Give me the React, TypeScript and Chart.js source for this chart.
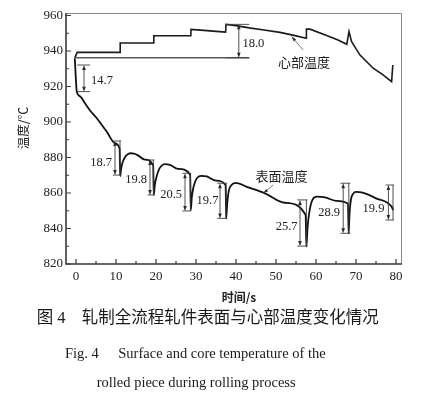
import React, { useEffect, useRef } from "react";
import { Chart, registerables } from "chart.js";

Chart.register(...registerables);

// ---------- data ----------
const xTicks = [0, 10, 20, 30, 40, 50, 60, 70, 80];
const xMinorTicks = [5, 15, 25, 35, 45, 55, 65, 75];
const yTicks = [820, 840, 860, 880, 900, 920, 940, 960];
const yMinorTicks = [830, 850, 870, 890, 910, 930, 950];

// core (心部) temperature
const coreX = [-0.3, 0.3, 11.0, 11.05, 19.4, 19.45, 28.7, 28.75, 32.0, 35.8, 37.4, 37.5, 40.0, 43.3, 47.0, 51.0, 54.5, 57.5, 57.6, 58.5, 62.5, 65.5, 67.7, 68.25, 68.9, 71.0, 74.3, 76.6, 78.9, 79.2];
const coreY = [936.1, 939.2, 939.2, 944.5, 944.5, 948.6, 948.6, 952.2, 951.6, 950.9, 950.6, 955.0, 954.3, 953.0, 951.8, 950.5, 948.8, 947.2, 952.4, 952.3, 948.8, 946.2, 943.8, 950.9, 945.2, 937.7, 930.3, 926.8, 922.7, 932.1];

// surface (表面) temperature
const surfaceX = [
  -0.3, 0.2, 1.0, 2.25, 3.5, 5.2, 6.5, 7.7, 9.75, 10.9,
  11.05, 11.3, 11.7, 12.2, 12.8, 13.6, 14.5, 15.5, 17.2, 19.3,
  19.45, 19.7, 20.1, 20.6, 21.2, 22.2, 23.5, 25.5, 28.55,
  28.7, 28.95, 29.3, 29.8, 30.3, 31.3, 32.7, 35.0, 37.4,
  37.55, 37.8, 38.2, 38.9, 39.6, 40.3, 42.25, 47.25, 52.25, 57.4,
  57.6, 57.9, 58.5, 59.1, 60.2, 62.25, 65.0, 68.0,
  68.15, 68.4, 68.75, 69.3, 70.0, 71.4, 75.0, 78.9, 79.3,
];
const surfaceY = [
  935.9, 917.1, 914.5, 910.5, 906.5, 902.1, 898.2, 894.5, 888.0, 885.0,
  869.5, 874.0, 877.6, 880.0, 881.6, 882.4, 882.2, 881.2, 878.8, 875.6,
  858.9, 864.5, 868.8, 872.5, 874.9, 876.3, 875.8, 873.6, 870.3,
  850.4, 857.5, 862.6, 866.5, 868.6, 869.7, 869.3, 867.0, 864.4,
  845.7, 854.0, 861.2, 864.5, 865.5, 865.6, 863.9, 859.8, 854.5, 847.6,
  829.8, 841.0, 851.4, 856.1, 857.9, 857.5, 855.6, 853.9,
  837.3, 849.0, 856.5, 859.6, 860.6, 860.3, 857.0, 852.3, 850.4,
];

// horizontal reference line at start core temperature
const baseLineX = [-0.5, 43.3];
const baseLineY = [936.2, 936.2];

// temperature-difference brackets
const diffLabels = ["14.7", "18.0", "18.7", "19.8", "20.5", "19.7", "25.7", "28.9", "19.9"];
const diffArrowX = [2.0, 40.7, 9.75, 18.5, 27.25, 36.0, 56.0, 66.8, 78.1];
const diffTop = [932.1, 955.0, 889.3, 878.6, 871.1, 865.5, 856.1, 865.5, 864.5];
const diffBottom = [917.1, 936.2, 870.1, 858.9, 849.9, 845.7, 830.1, 837.3, 844.8];
const diffTickFrom = [0.3, 37.5, 9.2, 17.9, 26.6, 35.3, 55.3, 66.1, 77.4];
const diffTickTo = [3.5, 43.3, 11.3, 19.6, 28.8, 37.8, 57.9, 68.6, 79.5];
const diffVertX = [null, null, 11.0, 19.35, 28.6, 37.5, 57.6, 68.2, 79.25];
const diffLabelX = [3.75, 41.6, 9.0, 17.75, 26.5, 35.6, 55.4, 66.0, 77.1];
const diffLabelY = [923.3, 944.3, 877.3, 867.3, 858.9, 855.7, 841.0, 848.9, 851.4];
const diffLabelAlign = ["left", "left", "right", "right", "right", "right", "right", "right", "right"];

// callouts
const calloutText = ["心部温度", "表面温度"];
const calloutX = [57.0, 51.4];
const calloutY = [934.0, 869.6];
const leaderFromX = [56.8, 49.3];
const leaderFromY = [940.6, 864.5];
const leaderToX = [53.9, 46.8];
const leaderToY = [948.1, 859.8];

const yTitle = "温度/℃";
const xTitle = "时间/s";
const captionCn1 = "图 4";
const captionCn2 = "轧制全流程轧件表面与心部温度变化情况";
const captionEn1a = "Fig. 4";
const captionEn1b = "Surface and core temperature of the";
const captionEn2 = "rolled piece during rolling process";

const toPts = (xs: number[], ys: number[]) => xs.map((x, i) => ({ x, y: ys[i] }));

function arrowHead(ctx: CanvasRenderingContext2D, x1: number, y1: number, x2: number, y2: number, len = 5, half = 1.8) {
  const ang = Math.atan2(y2 - y1, x2 - x1);
  ctx.beginPath();
  ctx.moveTo(x2, y2);
  ctx.lineTo(x2 - len * Math.cos(ang) + half * Math.sin(ang), y2 - len * Math.sin(ang) - half * Math.cos(ang));
  ctx.lineTo(x2 - len * Math.cos(ang) - half * Math.sin(ang), y2 - len * Math.sin(ang) + half * Math.cos(ang));
  ctx.closePath();
  ctx.fill();
}

const overlay = {
  id: "overlay",
  afterDraw(chart: any) {
    const { ctx, chartArea: a } = chart;
    const xs = chart.scales.x;
    const ys = chart.scales.y;
    const px = (v: number) => xs.getPixelForValue(v);
    const py = (v: number) => ys.getPixelForValue(v);
    ctx.save();
    // frame
    ctx.strokeStyle = "#8a8a8a";
    ctx.lineWidth = 1;
    ctx.beginPath();
    ctx.moveTo(a.left, a.top + 0.5);
    ctx.lineTo(a.right - 0.5, a.top + 0.5);
    ctx.lineTo(a.right - 0.5, a.bottom);
    ctx.stroke();
    ctx.strokeStyle = "#3a3a3a";
    ctx.lineWidth = 1.6;
    ctx.beginPath();
    ctx.moveTo(a.left, a.top);
    ctx.lineTo(a.left, a.bottom);
    ctx.lineTo(a.right, a.bottom);
    ctx.stroke();
    // inward ticks
    ctx.lineWidth = 1.2;
    ctx.beginPath();
    xTicks.forEach((v) => { const p = px(v); ctx.moveTo(p, a.bottom); ctx.lineTo(p, a.bottom - 5); });
    xMinorTicks.forEach((v) => { const p = px(v); ctx.moveTo(p, a.bottom); ctx.lineTo(p, a.bottom - 3); });
    yTicks.forEach((v) => { const p = py(v); ctx.moveTo(a.left, p); ctx.lineTo(a.left + 5, p); });
    yMinorTicks.forEach((v) => { const p = py(v); ctx.moveTo(a.left, p); ctx.lineTo(a.left + 3, p); });
    ctx.stroke();

    // brackets
    ctx.strokeStyle = "#3c3c3c";
    ctx.fillStyle = "#2a2a2a";
    ctx.lineWidth = 0.9;
    diffLabels.forEach((lab, i) => {
      const ax = px(diffArrowX[i]);
      const t = py(diffTop[i]);
      const b = py(diffBottom[i]);
      const l = px(diffTickFrom[i]);
      const r = px(diffTickTo[i]);
      ctx.beginPath();
      ctx.moveTo(l, t); ctx.lineTo(r, t);
      ctx.moveTo(l, b); ctx.lineTo(r, b);
      ctx.moveTo(ax, t + 4); ctx.lineTo(ax, b - 4);
      const vx = diffVertX[i];
      if (vx !== null) { const vp = px(vx as number); ctx.moveTo(vp, t); ctx.lineTo(vp, b); }
      ctx.stroke();
      arrowHead(ctx, ax, t + 6, ax, t, 5, 1.8);
      arrowHead(ctx, ax, b - 6, ax, b, 5, 1.8);
      ctx.font = "12.5px 'Liberation Serif', 'Times New Roman', serif";
      ctx.textAlign = diffLabelAlign[i] as CanvasTextAlign;
      ctx.textBaseline = "middle";
      ctx.fillStyle = "#222";
      ctx.fillText(lab, px(diffLabelX[i]), py(diffLabelY[i]));
      ctx.fillStyle = "#2a2a2a";
    });

    // callouts
    calloutText.forEach((txt, i) => {
      const fx = px(leaderFromX[i]), fy = py(leaderFromY[i]);
      const tx = px(leaderToX[i]), ty = py(leaderToY[i]);
      ctx.strokeStyle = "#555";
      ctx.lineWidth = 0.8;
      ctx.beginPath(); ctx.moveTo(fx, fy); ctx.lineTo(tx, ty); ctx.stroke();
      ctx.fillStyle = "#333";
      arrowHead(ctx, fx, fy, tx, ty, 5, 1.6);
      ctx.fillStyle = "#1e1e1e";
      ctx.font = "13px 'Noto Sans CJK SC', sans-serif";
      ctx.textAlign = "center";
      ctx.textBaseline = "middle";
      ctx.fillText(txt, px(calloutX[i]), py(calloutY[i]));
    });

    // axis titles
    ctx.fillStyle = "#222";
    ctx.font = "12.5px 'Noto Sans CJK SC', sans-serif";
    ctx.save();
    ctx.translate(23, 128);
    ctx.rotate(-Math.PI / 2);
    ctx.textAlign = "center";
    ctx.textBaseline = "middle";
    ctx.fillText(yTitle, 0, 0);
    ctx.restore();
    ctx.font = "bold 12px 'Noto Sans CJK SC', sans-serif";
    ctx.textAlign = "center";
    ctx.textBaseline = "middle";
    ctx.fillText(xTitle, 239, 297);
    ctx.restore();
  },
};

export default function App() {
  const ref = useRef<HTMLCanvasElement | null>(null);
  useEffect(() => {
    if (!ref.current) return;
    const chart = new Chart(ref.current, {
      type: "line",
      data: {
        datasets: [
          {
            label: "base",
            data: toPts(baseLineX, baseLineY),
            borderColor: "#5a5a5a",
            borderWidth: 1.4,
            pointRadius: 0,
            tension: 0,
          },
          {
            label: "心部温度",
            data: toPts(coreX, coreY),
            borderColor: "#1a1a1a",
            borderWidth: 1.6,
            pointRadius: 0,
            tension: 0,
          },
          {
            label: "表面温度",
            data: toPts(surfaceX, surfaceY),
            borderColor: "#111",
            borderWidth: 1.8,
            pointRadius: 0,
            cubicInterpolationMode: "monotone",
          },
        ],
      },
      options: {
        animation: false,
        responsive: false,
        devicePixelRatio: 1,
        layout: { padding: { left: 0, right: 30, top: 13, bottom: 91 } },
        plugins: { legend: { display: false }, tooltip: { enabled: false }, title: { display: false } },
        scales: {
          x: {
            type: "linear",
            min: -2.5,
            max: 81.5,
            afterBuildTicks: (axis: any) => { axis.ticks = xTicks.map((v) => ({ value: v })); },
            afterFit: (axis: any) => { axis.height = 40; },
            grid: { display: false, drawTicks: false, tickLength: 0 },
            border: { display: false },
            ticks: {
              padding: 5,
              maxRotation: 0,
              autoSkip: false,
              color: "#222",
              font: { family: "'Liberation Serif', 'Times New Roman', serif", size: 13 },
            },
          },
          y: {
            type: "linear",
            min: 820,
            max: 961.4,
            afterBuildTicks: (axis: any) => { axis.ticks = yTicks.map((v) => ({ value: v })); },
            afterFit: (axis: any) => { axis.width = 66; },
            grid: { display: false, drawTicks: false, tickLength: 0 },
            border: { display: false },
            ticks: {
              padding: 3,
              autoSkip: false,
              color: "#222",
              font: { family: "'Liberation Serif', 'Times New Roman', serif", size: 13 },
            },
          },
        },
      },
      plugins: [overlay],
    } as any);
    return () => chart.destroy();
  }, []);

  const serif = "'Liberation Serif', 'Times New Roman', serif";
  const cjk = "'Liberation Serif', 'Noto Sans CJK SC', serif";
  const abs = (left: number, top: number, size: number, family: string): React.CSSProperties => ({
    position: "absolute",
    left,
    top,
    fontSize: size,
    lineHeight: 1,
    fontFamily: family,
    whiteSpace: "nowrap",
    color: "#1a1a1a",
  });

  return (
    <div style={{ position: "fixed", left: 0, top: 0, width: 432, height: 395, background: "#fff", overflow: "hidden" }}>
      <canvas ref={ref} width={432} height={395} style={{ position: "absolute", left: 0, top: 0, width: 432, height: 395 }} />
      <div style={abs(36.7, 310, 16.5, cjk)}>{captionCn1}</div>
      <div style={abs(81.7, 310, 16.5, cjk)}>{captionCn2}</div>
      <div style={abs(65, 345.5, 14.5, serif)}>{captionEn1a}</div>
      <div style={abs(118.3, 345.5, 14.5, serif)}>{captionEn1b}</div>
      <div style={abs(96.7, 374.5, 14.5, serif)}>{captionEn2}</div>
    </div>
  );
}
